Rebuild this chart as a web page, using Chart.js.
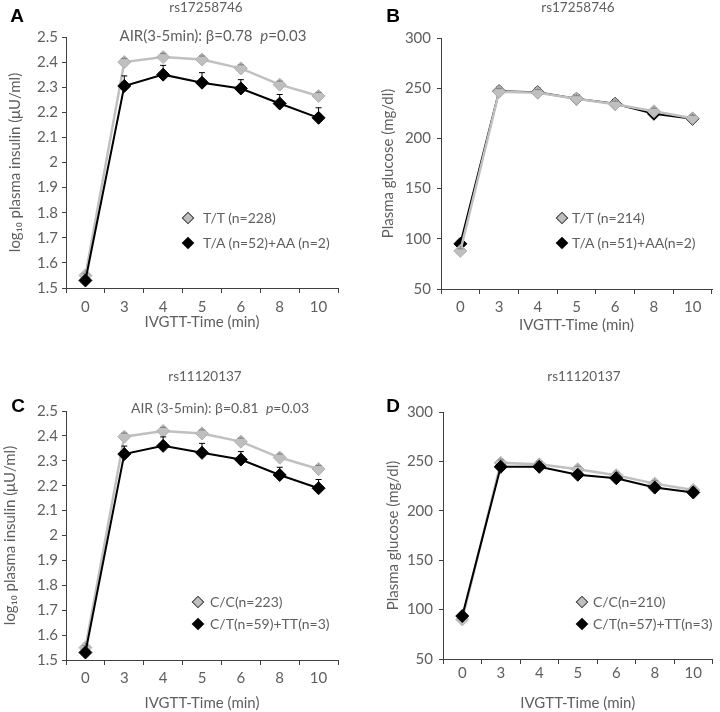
<!DOCTYPE html>
<html>
<head>
<meta charset="utf-8">
<script src="https://cdn.jsdelivr.net/npm/chart.js@4.4.1/dist/chart.umd.min.js"></script>
<style>
    body { margin: 0; background: #fff; }
    #wrap { position: relative; width: 720px; height: 712px; font-family: Lato, "DejaVu Sans", sans-serif; color: #5f5f5f; }
    canvas { position: absolute; }
    .c { position: absolute; white-space: nowrap; line-height: 1; transform: translate(-50%, -50%); }
    .l { position: absolute; white-space: nowrap; line-height: 1; transform: translateY(-50%); font-size: 14px; }
    .letter { font-family: "Liberation Sans", Arial, sans-serif; font-weight: bold; font-size: 19px; color: #000; }
    .mk { position: absolute; width: 9px; height: 9px; transform: translate(-50%, -50%) rotate(45deg); box-sizing: border-box; }
    .mk.g { background: #bfbfbf; border: 1px solid #404040; }
    .mk.b { background: #000; }
</style>
</head>
<body>
<div id="wrap">
    <canvas id="cA" width="360" height="356" style="left:0;top:0"></canvas>
    <canvas id="cB" width="360" height="356" style="left:360px;top:0"></canvas>
    <canvas id="cC" width="360" height="356" style="left:0;top:356px"></canvas>
    <canvas id="cD" width="360" height="356" style="left:360px;top:356px"></canvas>

    <!-- panel letters / titles / notes -->
    <div class="c letter" style="left:17px;top:15px">A</div>
    <div class="c letter" style="left:393px;top:15px">B</div>
    <div class="c letter" style="left:18px;top:405px">C</div>
    <div class="c letter" style="left:393px;top:405px">D</div>

    <div class="c" style="left:206px;top:8px;font-size:13.5px">rs17258746</div>
    <div class="c" style="left:578px;top:8px;font-size:13.5px">rs17258746</div>
    <div class="c" style="left:205px;top:377px;font-size:13.5px">rs11120137</div>
    <div class="c" style="left:584px;top:377px;font-size:13.5px">rs11120137</div>

    <div class="c" style="left:213px;top:35px;font-size:15px">AIR(3-5min): β=0.78&nbsp; <i>p</i>=0.03</div>
    <div class="c" style="left:220px;top:408px;font-size:14px">AIR (3-5min): β=0.81&nbsp; <i>p</i>=0.03</div>

    <!-- legends -->
    <div class="mk g" style="left:188px;top:218px"></div><div class="l" style="left:203px;top:218px">T/T (n=228)</div>
    <div class="mk b" style="left:188px;top:243px"></div><div class="l" style="left:203px;top:243px">T/A (n=52)+AA (n=2)</div>

    <div class="mk g" style="left:562px;top:218px"></div><div class="l" style="left:572px;top:218px">T/T (n=214)</div>
    <div class="mk b" style="left:562px;top:243px"></div><div class="l" style="left:572px;top:243px">T/A (n=51)+AA(n=2)</div>

    <div class="mk g" style="left:198px;top:602px"></div><div class="l" style="left:210px;top:602px">C/C(n=223)</div>
    <div class="mk b" style="left:198px;top:624px"></div><div class="l" style="left:210px;top:624px">C/T(n=59)+TT(n=3)</div>

    <div class="mk g" style="left:582px;top:602px"></div><div class="l" style="left:593px;top:602px">C/C(n=210)</div>
    <div class="mk b" style="left:582px;top:624px"></div><div class="l" style="left:593px;top:624px">C/T(n=57)+TT(n=3)</div>
</div>

<script>
// IVGTT sample times (min)
const times = ['0', '3', '4', '5', '6', '8', '10'];

// A: rs17258746 log10 insulin
const insA_TT = [1.55, 2.40, 2.42, 2.41, 2.375, 2.31, 2.265];
const insA_TT_err = [0.008, 0.014, 0.014, 0.014, 0.014, 0.014, 0.014];
const insA_TA = [1.53, 2.305, 2.35, 2.318, 2.295, 2.235, 2.178];
const insA_TA_err = [0.008, 0.04, 0.037, 0.04, 0.035, 0.036, 0.04];

// B: rs17258746 glucose
const gluB_TT = [88, 246.5, 245.5, 239.5, 234, 227, 220];
const gluB_TT_err = [2, 3, 3, 3, 3, 3, 3];
const gluB_TA = [95, 247, 246, 239.5, 234.5, 224.5, 219.5];
const gluB_TA_err = [3, 4, 4, 4, 4, 4, 4];

// C: rs11120137 log10 insulin
const insC_CC = [1.55, 2.397, 2.42, 2.41, 2.377, 2.313, 2.267];
const insC_CC_err = [0.008, 0.014, 0.014, 0.014, 0.014, 0.014, 0.014];
const insC_CT = [1.53, 2.327, 2.36, 2.332, 2.305, 2.243, 2.19];
const insC_CT_err = [0.008, 0.032, 0.036, 0.038, 0.032, 0.031, 0.035];

// D: rs11120137 glucose
const gluD_CC = [90, 248.5, 247, 242, 236, 227.5, 221];
const gluD_CC_err = [2, 3, 3, 3, 3, 3, 3];
const gluD_CT = [93.5, 244.5, 244.5, 236.5, 233, 223.5, 218.5];
const gluD_CT_err = [3, 3, 3, 3, 3, 3, 3];

const GRAY = '#c0c0c0';
const BLACK = '#000000';
const TXT = '#5f5f5f';
const AXIS = '#404040';
const FONT = 'Lato, "DejaVu Sans", sans-serif';

// upward-only error bars with a small cap
const errorBars = {
    id: 'errorBars',
    afterDatasetDraw(chart, args) {
        const ds = chart.data.datasets[args.index];
        if (!ds.errors) return;
        const y = chart.scales.y;
        const ctx = chart.ctx;
        ctx.save();
        ctx.strokeStyle = ds.errorColor;
        ctx.lineWidth = 1;
        args.meta.data.forEach((pt, i) => {
            const top = y.getPixelForValue(ds.data[i] + ds.errors[i]);
            ctx.beginPath();
            ctx.moveTo(pt.x, pt.y - 5);
            ctx.lineTo(pt.x, top);
            ctx.moveTo(pt.x - 3, top);
            ctx.lineTo(pt.x + 3, top);
            ctx.stroke();
        });
        ctx.restore();
    }
};

const series = (data, errors, color, order) => ({
    data: data,
    errors: errors,
    errorColor: color === GRAY ? '#808080' : BLACK,
    borderColor: color,
    borderWidth: color === GRAY ? 2.5 : 2,
    backgroundColor: color,
    pointStyle: 'rectRot',
    pointRadius: 6.5,
    pointBackgroundColor: color === GRAY ? '#bfbfbf' : BLACK,
    pointBorderColor: color === GRAY ? '#b0b0b0' : BLACK,
    pointBorderWidth: 1,
    tension: 0,
    order: order
});

const makeChart = (id, p) => {
    const ctx = document.getElementById(id).getContext('2d');
    return new Chart(ctx, {
        type: 'line',
        data: { labels: times, datasets: p.datasets },
        options: {
            responsive: false,
            animation: false,
            devicePixelRatio: 1,
            layout: { padding: { top: p.top, right: p.right, left: 0, bottom: 0 } },
            plugins: { legend: { display: false }, tooltip: { enabled: false } },
            scales: {
                x: {
                    type: 'category',
                    offset: true,
                    grid: { offset: true, drawOnChartArea: false, drawTicks: true, tickLength: 5, color: AXIS },
                    border: { display: true, color: AXIS, width: 1 },
                    ticks: { color: TXT, font: { family: FONT, size: 15 }, padding: p.xPad, maxRotation: 0 },
                    title: { display: true, text: 'IVGTT-Time (min)', color: TXT, font: { family: FONT, size: 15 }, padding: { top: 0, bottom: p.xTitlePad } },
                    afterFit: (s) => { s.height = p.xH; }
                },
                y: {
                    min: p.min, max: p.max,
                    grid: { drawOnChartArea: false, drawTicks: true, tickLength: 4, color: AXIS },
                    border: { display: true, color: AXIS, width: 1 },
                    ticks: { stepSize: p.step, color: TXT, font: { family: FONT, size: 15 }, padding: p.yPad,
                             callback: (v) => String(+v.toFixed(1)) },
                    title: { display: true, text: p.yTitle, color: TXT, font: { family: FONT, size: 15 }, padding: { top: p.yTitlePad, bottom: 0 } },
                    afterFit: (s) => { s.width = p.yW; }
                }
            }
        },
        plugins: [errorBars]
    });
};

const insTitle = 'log\u2081\u2080 plasma insulin (\u03bcU/ml)';
const gluTitle = 'Plasma glucose (mg/dl)';

makeChart('cA', {
    datasets: [series(insA_TT, insA_TT_err, GRAY, 1), series(insA_TA, insA_TA_err, BLACK, 0)],
    min: 1.5, max: 2.5, step: 0.1, yTitle: insTitle,
    top: 37, right: 22, yW: 66, xH: 68, xPad: 5, yPad: 4, xTitlePad: 25, yTitlePad: 6
});
makeChart('cB', {
    datasets: [series(gluB_TT, gluB_TT_err, GRAY, 0), series(gluB_TA, gluB_TA_err, BLACK, 1)],
    min: 50, max: 300, step: 50, yTitle: gluTitle,
    top: 38, right: 8, yW: 81, xH: 67, xPad: 4, yPad: 6, xTitlePad: 22, yTitlePad: 19
});
makeChart('cC', {
    datasets: [series(insC_CC, insC_CC_err, GRAY, 1), series(insC_CT, insC_CT_err, BLACK, 0)],
    min: 1.5, max: 2.5, step: 0.1, yTitle: insTitle,
    top: 55, right: 22, yW: 66, xH: 52, xPad: 4, yPad: 4, xTitlePad: 0, yTitlePad: 1
});
makeChart('cD', {
    datasets: [series(gluD_CC, gluD_CC_err, GRAY, 1), series(gluD_CT, gluD_CT_err, BLACK, 0)],
    min: 50, max: 300, step: 50, yTitle: gluTitle,
    top: 56, right: 2, yW: 83, xH: 53, xPad: 0, yPad: 6, xTitlePad: 0, yTitlePad: 24
});
</script>
</body>
</html>
